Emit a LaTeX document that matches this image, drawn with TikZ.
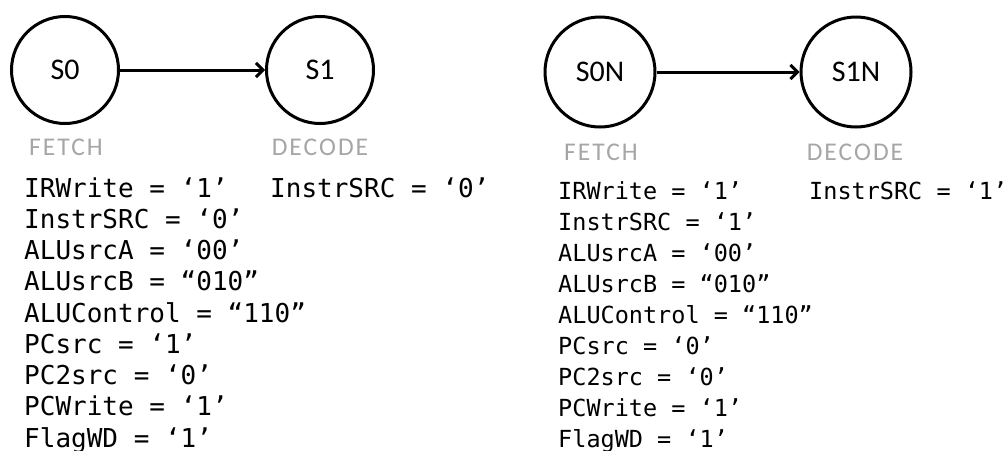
\documentclass[tikz,border=0pt]{standalone}
\usepackage{fontspec}
\usetikzlibrary{arrows.meta}
\setmainfont{Carlito}
\newfontfamily\monofam{DejaVu Sans Mono}
\newfontfamily\labfam[LetterSpace=8]{Carlito}
\definecolor{lblgray}{RGB}{166,166,166}
\begin{document}
\begin{tikzpicture}[x=1pt,y=-1pt,
  state/.style={circle,draw=black,line width=3pt,minimum size=107pt,inner sep=0pt,font=\fontsize{30}{34}\selectfont},
  phase/.style={text=lblgray,font=\labfam\fontsize{25.5}{28}\selectfont,inner sep=0pt},
  sig/.style={anchor=base west,inner sep=0pt,font=\monofam\fontsize{26}{31}\selectfont},
  sigr/.style={sig,font=\monofam\fontsize{23.5}{31}\selectfont},
  trans/.style={line width=3pt,-{Straight Barb[length=7pt,width=14pt,line width=3pt]}}]
\useasboundingbox (0,0) rectangle (1003,450);
% left machine
\node[state] (s0) at (65,70) {S0};
\node[state] (s1) at (320,70) {S1};
\draw[trans] (s0) -- (s1);
\node[phase] (f0) at (66,147) {FETCH};
\node[phase] (d0) at (320,147) {DECODE};
\foreach \t [count=\i from 0] in {IRWrite = ‘1’,InstrSRC = ‘0’,ALUsrcA = ‘00’,ALUsrcB = “010”,ALUControl = “110”,PCsrc = ‘1’,PC2src = ‘0’,PCWrite = ‘1’,FlagWD = ‘1’}
  \node[sig] (a\i) at (24,197+31.25*\i) {\t};
\node[sig] (u0) at (270,197) {InstrSRC = ‘0’};
% right machine
\node[state,minimum size=110pt] (s0n) at (600,72) {S0N};
\node[state,minimum size=110pt] (s1n) at (856,72) {S1N};
\draw[trans] (s0n) -- (s1n);
\node[phase] (f1) at (601,152) {FETCH};
\node[phase] (d1) at (855,152) {DECODE};
\foreach \t [count=\i from 0] in {IRWrite = ‘1’,InstrSRC = ‘1’,ALUsrcA = ‘00’,ALUsrcB = “010”,ALUControl = “110”,PCsrc = ‘0’,PC2src = ‘0’,PCWrite = ‘1’,FlagWD = ‘1’}
  \node[sigr] (b\i) at (558,199+31*\i) {\t};
\node[sigr] (u1) at (809,199) {InstrSRC = ‘1’};
\end{tikzpicture}
\end{document}
